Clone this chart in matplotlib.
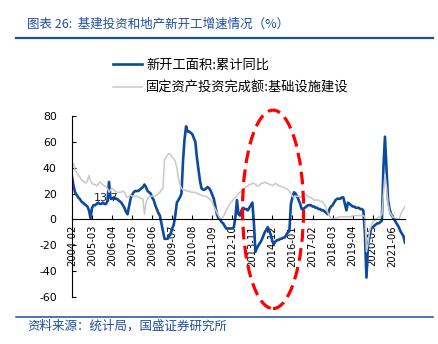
import numpy as np
import pandas as pd
import matplotlib
matplotlib.use("Agg")
import matplotlib.pyplot as plt
from matplotlib.patches import Ellipse
from matplotlib.lines import Line2D

plt.rcParams['font.family'] = ['DejaVu Sans', 'Noto Sans CJK SC']
plt.rcParams['axes.unicode_minus'] = False

# monthly, 2004-02 .. 2022-02
start_month = '2004-02'
new_start_yoy = [
    33, 26, 21, 19, 17, 16, 14, 13, 12, 11, 10,          # 2004
    7, 1, 9, 11, 11, 12, 13, 12, 12, 13, 12, 12,          # 2005
    14, 29, 16, 16, 17, 16, 16, 15, 14, 13, 11, 9,        # 2006
    6, 4, 10, 16, 19, 21, 22, 22, 22, 23, 24, 25,         # 2007
    27, 25, 22, 21, 20, 17, 15, 11, 8, 5, 3, -3,          # 2008
    -9, -15, -15, -15, -13, -11, -7, -4, 3, 13, 15, 17,   # 2009
    20, 45, 62, 72, 68, 68, 67, 66, 63, 60, 48, 39,       # 2010
    30, 24, 23, 23, 24, 25, 24, 22, 19, 16, 10, 4,        # 2011
    1, 0, -2, -3, -5, -7, -7, -7, -7, -7, -6, 2,          # 2012
    15, 4, 3, 7, 9, 8, 8, 7, 9, 11, 13, -3,               # 2013
    -25, -22, -20, -18, -16, -13, -10, -8, -6, -9, -12, -17,  # 2014
    -19, -17, -16, -16, -15, -15, -14, -14, -12, -10, -9, 12,  # 2015
    17, 21, 20, 18, 15, 12, 8, 8, 9, 10, 11, 11,          # 2016
    11, 10, 10, 9, 9, 8, 8, 7, 7, 6, 5, 4,                # 2017
    8, 10, 11, 13, 15, 16, 16, 16, 17, 17, 12, 7,         # 2018
    13, 12, 11, 10, 10, 9, 9, 9, 8, 8, 7, -11,            # 2019
    -45, -20, -13, -7, -6, -5, -4, -3, -3, -2, -1, 40,    # 2020
    64, 40, 15, 8, 4, 2, 0, -2, -4, -6, -9, -11,          # 2021
    -13, -18,                                             # 2022
]
infra_fai_yoy = [
    42, 43, 38, 36, 34, 33, 31, 30, 29, 28, 30,
    34, 30, 28, 27, 27, 26, 27, 29, 28, 27, 26, 25,
    24, 21, 23, 24, 23, 22, 21, 21, 21, 21, 22, 21,
    18, 17, 18, 19, 18, 18, 18, 18, 17, 17, 16, 16,
    4, 13, 16, 18, 18, 18, 18, 18, 19, 20, 21, 23,
    24, 46, 48, 50, 51, 50, 48, 47, 45, 40, 32, 27,
    24, 23, 23, 22, 22, 22, 21, 21, 21, 21, 20, 20,
    19, 19, 18, 18, 18, 17, 16, 15, 13, 10, 8, 5,
    3, 1, 1, 2, 4, 7, 9, 11, 13, 14, 16, 17,
    18, 20, 21, 22, 23, 24, 25, 26, 27, 27, 28, 28,
    27, 26, 26, 27, 28, 28, 29, 28, 28, 27, 27, 26,
    27, 28, 27, 26, 26, 25, 25, 24, 24, 23, 22, 20,
    18, 17, 18, 18, 18, 17, 18, 19, 20, 19, 18, 17,
    17, 16, 15, 15, 15, 15, 14, 14, 13, 11, 8, 5,
    3, 1, 0.5, 0.5, 1, 1, 2, 2, 2, 2, 2, 2,
    2, 2, 2, 3, 3, 3, 3, 3, 3, 3, 3, 2,
    -25, -19, -9, -5, -2, -1, 0, 1, 2, 2, 4, 20,
    35, 25, 12, 6, 4, 2, 1.5, 1, 0.5, 0, 3, 6,
    8, 10,
]
months = pd.date_range(start_month, periods=len(new_start_yoy), freq='MS')
month_labels = [d.strftime('%Y-%m') for d in months]
tick_step = 13

blue = '#0B4A9E'
grey = '#C9C9C9'
text_blue = '#1F4E9C'

fig = plt.figure(figsize=(4.38, 3.44), dpi=100)
ax = fig.add_axes([72 / 438, 1 - 297 / 344, (405 - 72) / 438, (297 - 116) / 344])

x = np.arange(len(new_start_yoy))
ax.plot(x, new_start_yoy, color=blue, lw=1.9, label='新开工面积:累计同比')
ax.plot(x, infra_fai_yoy, color=grey, lw=1.1, label='固定资产投资完成额:基础设施建设')

ax.spines['bottom'].set_position(('data', 0))
ax.spines['top'].set_visible(False)
ax.spines['right'].set_visible(False)
for s in ['left', 'bottom']:
    ax.spines[s].set_linewidth(0.8)

ax.set_xlim(0, len(x) - 1)
ax.set_ylim(-60, 80)
ax.set_yticks(range(-60, 81, 20))
ax.set_xticks(x[::tick_step])
ax.set_xticklabels(month_labels[::tick_step], rotation=90, fontsize=7.2)
ax.tick_params(axis='x', direction='in', length=3, width=0.8, pad=4)
ax.tick_params(axis='y', direction='in', length=3, width=0.8, pad=11, labelsize=7.8)

ax.text(22.5, 16.8, '13.7', fontsize=8, ha='center', va='center', color='#222222')

ell = Ellipse((130.4, 7.8), 39.6, 153.5, fill=False, ec='#FF0000', lw=2.3,
              ls=(0, (4, 2)), clip_on=False, zorder=5)
ax.add_patch(ell)

fig.legend(loc='upper left', bbox_to_anchor=(106 / 438, 1 - 52 / 344), frameon=False,
           handlelength=2.2, handletextpad=0.35, labelspacing=0.75, borderpad=0,
           prop={'family': ['Noto Sans CJK SC', 'DejaVu Sans'], 'size': 9.5})

fig.text(27 / 438, 1 - 24 / 344, '图表 26:  基建投资和地产新开工增速情况（%）', fontsize=9,
         color=text_blue, style='italic', va='center',
         family=['Noto Sans CJK SC', 'DejaVu Sans'])
fig.add_artist(Line2D([16 / 438, 433 / 438], [1 - 38 / 344, 1 - 38 / 344],
                      color=text_blue, lw=1.6))
fig.add_artist(Line2D([16 / 438, 433 / 438], [1 - 316.5 / 344, 1 - 316.5 / 344],
                      color=text_blue, lw=1.1))
fig.text(27 / 438, 1 - 326 / 344, '资料来源：统计局，国盛证券研究所', fontsize=9,
         color=text_blue, style='italic', va='center',
         family=['Noto Sans CJK SC', 'DejaVu Sans'])

fig.savefig('out.png', dpi=100)
